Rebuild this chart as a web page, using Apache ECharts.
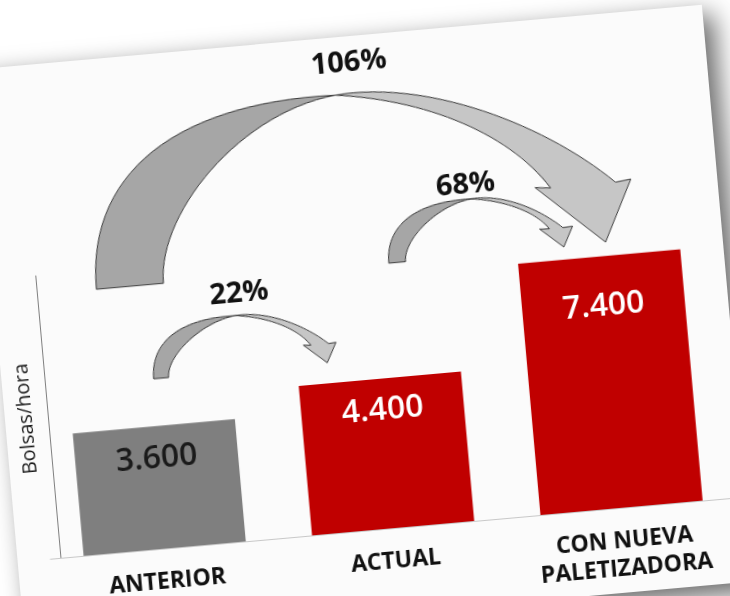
<!DOCTYPE html>
<html>
<head>
<meta charset="utf-8">
<script src="https://cdn.jsdelivr.net/npm/echarts/dist/echarts.min.js"></script>
<style>
html, body { margin: 0; padding: 0; width: 730px; height: 596px; overflow: hidden; background: #fff; }
/* la hoja va girada, como en la foto original */
#card {
	position: absolute; left: -2px; top: 36px; width: 731px; height: 579px;
	background: #fbfbfb; transform: rotate(-5.1deg);
	box-shadow: 10px 10px 26px rgba(0, 0, 0, 0.6);
}
#chart { width: 731px; height: 579px; }
</style>
</head>
<body>
<div id="card"><div id="chart"></div></div>
<script>
	// datos
	var categories = ['ANTERIOR', 'ACTUAL', 'CON NUEVA\nPALETIZADORA'];
	var bolsasHora = [3600, 4400, 7400];
	var arrowFrom = [0, 1, 0];
	var arrowTo = [1, 2, 2];
	var yMax = 8300;

	// estilos
	var barColors = ['#7f7f7f', '#c00000', '#c00000'];
	var labelColors = ['#1a1a1a', '#ffffff', '#ffffff'];
	var labelDist = [17, 16, 34];
	// flechas: x0/x1 en fracción del ancho de categoría, el resto en px
	var arrowStyle = [
		{x0: 0.018, x1: -0.175, gap: 20, h: 56, fw: 0.081, bw: 0.096, labelDx: 0, labelGap: 21},
		{x0: 0.084, x1: -0.1025, gap: 12, h: 57, fw: 0.09, bw: 0.073, labelDx: -10, labelGap: 14},
		{x0: -0.196, x1: 0.171, gap: 12, h: 173, fw: 0.124, bw: 0.12, labelDx: 0, labelGap: 30}
	];

	function fmtMiles(v) {		// 3600 -> 3.600
		return (v / 1000).toFixed(3);
	}

	function bez(p0, p1, p2, p3, n) {
		var pts = [];
		for (var k = 0; k <= n; k++) {
			var t = k / n, a = (1 - t) * (1 - t) * (1 - t), b = 3 * (1 - t) * (1 - t) * t,
				c = 3 * (1 - t) * t * t, d = t * t * t;
			pts.push([a * p0[0] + b * p1[0] + c * p2[0] + d * p3[0],
				a * p0[1] + b * p1[1] + c * p2[1] + d * p3[1]]);
		}
		return pts;
	}

	function renderArrow(params, api) {
		var i = params.dataIndex, st = arrowStyle[i];
		var from = api.value(0), to = api.value(1), top = api.value(2);
		var cw = api.size([1, 0])[0];
		var srcX = api.coord([from, 0])[0];
		var tgt = api.coord([to, top]);
		var x0 = srcX + st.x0 * cw, x1 = tgt[0] + st.x1 * cw, w = x1 - x0;
		var bottom = tgt[1] - st.gap, yTop = bottom - st.h;
		function P(nx, ny) { return [x0 + nx * w, yTop + ny * st.h]; }

		var hc = 0.91;
		var C = P(0.47, 0.005);
		var FO = P(0, 1), FI = P(st.fw, 1);
		var IS = [hc - st.bw / 2, 0.65], OS = [hc + st.bw / 2, 0.65];

		var dark = bez(FO, P(0, 0.32), P(0.18, -0.03), C, 30)
			.concat(bez(C, P(0.29, 0.06), P(st.fw, 0.6), FI, 30));
		var light = bez(C, P(0.64, -0.04), P(OS[0] - 0.12, 0.28), P(OS[0], OS[1]), 30)
			.concat([P(hc + 0.0885, 0.64), P(0.942, 0.99), P(hc - 0.0885, 0.64)])
			.concat(bez(P(IS[0], IS[1]), P(IS[0] - 0.066, 0.32), P(0.64, 0.08), C, 30));

		var pct = Math.round((bolsasHora[to] / bolsasHora[from] - 1) * 100) + '%';
		return {
			type: 'group',
			children: [
				{type: 'polygon', shape: {points: dark}, style: {fill: '#a6a6a6', stroke: '#3a3a3a', lineWidth: 1}},
				{type: 'polygon', shape: {points: light}, style: {fill: '#c6c6c6', stroke: '#3a3a3a', lineWidth: 1}},
				{type: 'text', style: {
					text: pct, x: (x0 + x1) / 2 + st.labelDx, y: yTop - st.labelGap,
					align: 'center', verticalAlign: 'middle',
					font: 'bold 29px "Open Sans", sans-serif', fill: '#111'
				}}
			]
		};
	}

	var myChart = echarts.init(document.getElementById('chart'));
	var option = {
		animation: false,
		grid: {left: 33, right: 10, top: 211, bottom: 85},
		xAxis: {
			type: 'category',
			data: categories,
			axisLine: {lineStyle: {color: '#c8c8c8', width: 1}},
			axisTick: {show: false},
			axisLabel: {
				interval: 0, margin: 19, color: '#111', fontWeight: 'bold',
				fontSize: 23, lineHeight: 28, fontFamily: 'Open Sans'
			}
		},
		yAxis: {
			type: 'value',
			min: 0,
			max: yMax,
			offset: -10,
			name: 'Bolsas/hora',
			nameLocation: 'middle',
			nameGap: 12,
			nameTextStyle: {fontFamily: 'Open Sans', fontSize: 20, color: '#1a1a1a'},
			axisLine: {show: true, lineStyle: {color: '#7f7f7f'}},
			axisTick: {show: false},
			axisLabel: {show: false},
			splitLine: {show: false}
		},
		series: [{
			type: 'bar',
			barWidth: '71%',
			data: bolsasHora.map(function(v, i) {
				return {value: v, itemStyle: {color: barColors[i]},
					label: {color: labelColors[i], distance: labelDist[i]}};
			}),
			label: {
				show: true, position: 'insideTop',
				fontFamily: 'Open Sans', fontSize: 32, fontWeight: 600,
				formatter: function(p) { return fmtMiles(p.value); }
			}
		}, {
			type: 'custom',
			silent: true,
			z: 5,
			dimensions: ['from', 'to', 'top'],
			encode: {x: 'from', y: 'top'},
			data: arrowFrom.map(function(f, i) {
				return [f, arrowTo[i], bolsasHora[arrowTo[i]]];
			}),
			renderItem: renderArrow
		}]
	};
	myChart.setOption(option);
</script>
</body>
</html>
